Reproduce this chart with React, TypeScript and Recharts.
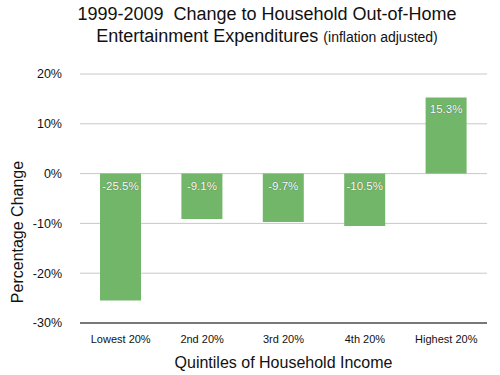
import { BarChart, Bar, XAxis, YAxis, CartesianGrid, LabelList } from "recharts";

const quintiles = ["Lowest 20%", "2nd 20%", "3rd 20%", "4th 20%", "Highest 20%"];
const changes = [-25.5, -9.1, -9.7, -10.5, 15.3];
const yTicks = [-30, -20, -10, 0, 10, 20];

const data = quintiles.map((q, i) => ({ q, change: changes[i] }));

const FONT = '"Liberation Sans", Arial, Helvetica, sans-serif';

function BarValue(props: any) {
  const { x, y, width, height, value } = props;
  const top = Math.min(y, y + height);
  return (
    <text
      x={x + width / 2}
      y={top + 16}
      textAnchor="middle"
      fill="#fff"
      fontSize={11.5}
      fontFamily={FONT}
      style={{ textShadow: "0 0 1px rgba(0,0,0,0.5)" }}
    >
      {`${value.toFixed(1)}%`}
    </text>
  );
}

export default function App() {
  return (
    <div
      style={{
        position: "absolute",
        left: 0,
        top: 0,
        width: 500,
        height: 375,
        background: "#fff",
        fontFamily: FONT,
      }}
    >
      <div
        style={{
          position: "absolute",
          left: 0,
          width: 534,
          top: 3,
          textAlign: "center",
          fontSize: 18,
          lineHeight: "22px",
          color: "#111",
        }}
      >
        <div>1999-2009&nbsp; Change to Household Out-of-Home</div>
        <div>
          Entertainment Expenditures <span style={{ fontSize: 14 }}>(inflation adjusted)</span>
        </div>
      </div>
      <div
        style={{
          position: "absolute",
          left: 18,
          top: 232,
          transform: "translate(-50%, -50%) rotate(-90deg)",
          fontSize: 16,
          whiteSpace: "nowrap",
          color: "#111",
        }}
      >
        Percentage Change
      </div>
      <div style={{ position: "absolute", left: 0, top: 0 }}>
        <BarChart
          width={500}
          height={375}
          data={data}
          margin={{ top: 74, right: 13, bottom: 0, left: 0 }}
        >
          <CartesianGrid vertical={false} stroke="#c8c8c8" />
          <XAxis
            dataKey="q"
            height={52}
            tickLine={false}
            axisLine={{ stroke: "#555", strokeWidth: 1.5 }}
            tick={{ fill: "#111", fontSize: 11, fontFamily: FONT }}
            tickMargin={6}
            interval={0}
            label={{
              value: "Quintiles of Household Income",
              position: "insideBottom",
              offset: 7,
              fill: "#111",
              fontSize: 16,
              fontFamily: FONT,
            }}
          />
          <YAxis
            width={80}
            domain={[-30, 20]}
            ticks={yTicks}
            tickFormatter={(v: number) => `${v}%`}
            tickLine={false}
            axisLine={false}
            tickSize={0}
            tickMargin={18}
            tick={{ fill: "#111", fontSize: 12.5, fontFamily: FONT }}
          />
          <Bar dataKey="change" fill="#72b66a" barSize={41} isAnimationActive={false}>
            <LabelList dataKey="change" content={<BarValue />} />
          </Bar>
        </BarChart>
      </div>
    </div>
  );
}
